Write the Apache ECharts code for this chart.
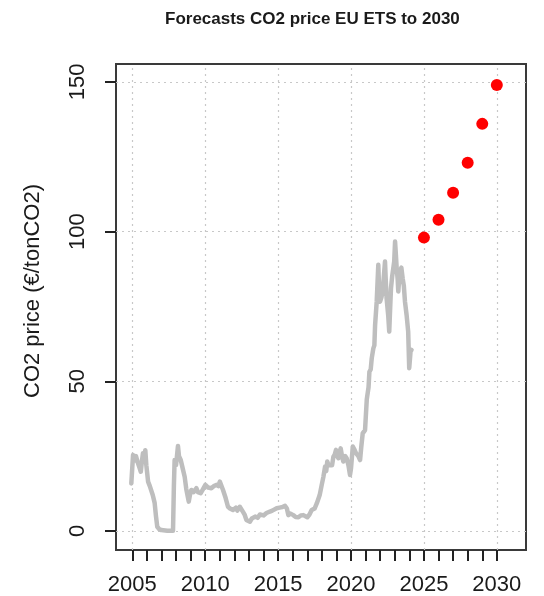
<!DOCTYPE html>
<html>
<head>
<meta charset="utf-8">
<script src="https://cdn.jsdelivr.net/npm/echarts@6/dist/echarts.min.js"></script>
<style>html,body{margin:0;padding:0;background:#fff}#c{width:544px;height:596px}</style>
</head>
<body>
<div id="c"></div>
<script>
// Historical EU ETS price (€/tonCO2)
var priceYears = [2004.93,2005.05,2005.15,2005.25,2005.39,2005.5,2005.58,2005.65,2005.73,2005.8,2005.89,2005.96,2006.08,2006.2,2006.3,2006.4,2006.53,2006.62,2006.71,2006.85,2006.99,2007.4,2007.79,2007.85,2007.9,2008.0,2008.13,2008.2,2008.32,2008.45,2008.59,2008.7,2008.87,2008.95,2009.05,2009.2,2009.39,2009.5,2009.69,2009.85,2010.01,2010.2,2010.42,2010.6,2010.76,2010.9,2011.0,2011.1,2011.22,2011.4,2011.56,2011.7,2011.9,2012.1,2012.2,2012.37,2012.48,2012.59,2012.7,2012.82,2012.95,2013.07,2013.2,2013.3,2013.42,2013.6,2013.75,2013.87,2014.0,2014.2,2014.44,2014.6,2014.9,2015.1,2015.3,2015.47,2015.6,2015.7,2015.85,2016.04,2016.2,2016.39,2016.55,2016.73,2016.85,2017.0,2017.15,2017.3,2017.5,2017.65,2017.85,2017.99,2018.1,2018.22,2018.3,2018.37,2018.45,2018.56,2018.7,2018.79,2018.88,2018.97,2019.05,2019.13,2019.2,2019.29,2019.38,2019.47,2019.6,2019.7,2019.82,2019.93,2020.0,2020.12,2020.25,2020.34,2020.5,2020.62,2020.7,2020.8,2020.96,2021.08,2021.2,2021.26,2021.35,2021.42,2021.53,2021.6,2021.65,2021.76,2021.87,2021.93,2021.99,2022.08,2022.17,2022.25,2022.33,2022.38,2022.44,2022.55,2022.62,2022.68,2022.74,2022.82,2022.9,2022.96,2023.02,2023.08,2023.13,2023.2,2023.24,2023.3,2023.36,2023.45,2023.54,2023.62,2023.7,2023.81,2023.92,2023.99,2024.05,2024.08,2024.15];
var priceValues = [15.9,25.4,23.5,25,22.6,21,19.8,23,26,24,27,22,16.5,15,15.4,12,9.4,5,1.4,0.6,0.3,0.1,0.1,15,23.7,22,28.4,25,23.7,21,18.1,14,9.8,12,13.7,13,14.3,13,12.6,14,15.4,14.5,14.3,15,15.4,15,16.5,16,13.7,11,8.1,7.5,7,7.8,6.8,8.1,7.5,6.4,5.5,3.7,4.2,3.1,4.2,3.8,4.8,4.4,5.5,5.9,5.2,6,6.5,6.8,7.6,7.8,8,8.4,7.5,5.3,5.8,5.3,4.7,4.6,5.2,5.3,4.8,4.6,5.5,7,7.5,9.2,12,15.4,18,21.5,20,23.2,22,21.5,22,24.8,25.5,27.1,25,24.3,26,27.6,25,23.2,25,24.3,22,18.7,21,28.2,27,26,25,23.7,28,32.6,33.7,44,48,53.2,54,57.7,61,62,68.8,76.6,88.9,80,76.6,78,80,85,90,84,77.7,72,66.6,74,81.1,85,87.8,90,96.7,92,87.8,84,80,84,86.6,88,84.4,82,76.6,72.2,66.6,54.4,58,59.9,60.5];

// Forecast points
var forecastYears = [2025,2026,2027,2028,2029,2030];
var forecastValues = [98,104,113,123,136,149];

// Axis ticks
var xTickYears = [2005,2006,2007,2008,2009,2010,2011,2012,2013,2014,2015,2016,2017,2018,2019,2020,2021,2022,2023,2024,2025,2026,2027,2028,2029,2030];
var xLabelYears = [2005,2010,2015,2020,2025,2030];
var yTicks = [0,50,100,150];

var FONT = 'Liberation Sans, Arial, sans-serif';
var chart = echarts.init(document.getElementById('c'), null, {renderer:'canvas'});

var historic = priceYears.map(function(y,i){return [y, priceValues[i]];});
var forecast = forecastYears.map(function(y,i){return [y, forecastValues[i]];});
var gridMarks = xLabelYears.map(function(v){return {xAxis:v};})
  .concat(yTicks.map(function(v){return {yAxis:v};}));

chart.setOption({
  animation:false,
  backgroundColor:'#ffffff',
  title:{
    text:'Forecasts CO2 price EU ETS to 2030',
    left:160, top:6,
    textStyle:{fontFamily:FONT, fontSize:17, fontWeight:'bold', color:'#1a1a1a'}
  },
  graphic:[{
    type:'text', x:33, y:291, rotation:Math.PI/2,
    style:{text:'CO2 price (€/tonCO2)', fontFamily:FONT, fontSize:22, fill:'#1a1a1a',
      textAlign:'center', textVerticalAlign:'middle'}
  }],
  grid:{left:116, right:18, top:64, bottom:46, show:true, borderColor:'#3a3a3a', borderWidth:2, backgroundColor:'transparent'},
  xAxis:{
    type:'value', min:2003.88, max:2032,
    axisLine:{show:false, onZero:false},
    axisTick:{show:true, inside:false, customValues:xTickYears, length:11, lineStyle:{color:'#222', width:2}},
    axisLabel:{customValues:xLabelYears, formatter:function(v){return String(v);}, fontFamily:FONT, fontSize:22, color:'#1a1a1a', margin:24},
    splitLine:{show:false}
  },
  yAxis:{
    type:'value', min:-6.35, max:156,
    axisLine:{show:false, onZero:false},
    axisTick:{show:true, inside:false, customValues:yTicks, length:11, lineStyle:{color:'#222', width:2}},
    axisLabel:{customValues:yTicks, formatter:function(v){return String(v);}, rotate:90, fontFamily:FONT, fontSize:22, color:'#1a1a1a', margin:27},
    splitLine:{show:false}
  },
  series:[
    {type:'line', data:[], z:1, silent:true,
     markLine:{silent:true, z:1, symbol:['none','none'], label:{show:false},
       lineStyle:{color:'#c8c8c8', type:[2,4], width:1.2}, data:gridMarks}},
    {type:'line', data:historic, z:3, showSymbol:false, symbol:'none',
     lineStyle:{color:'#bebebe', width:4.5, join:'round', cap:'round'}},
    {type:'scatter', data:forecast, z:10, symbolSize:12, itemStyle:{color:'#ff0000', opacity:1}}
  ]
});
</script>
</body>
</html>
